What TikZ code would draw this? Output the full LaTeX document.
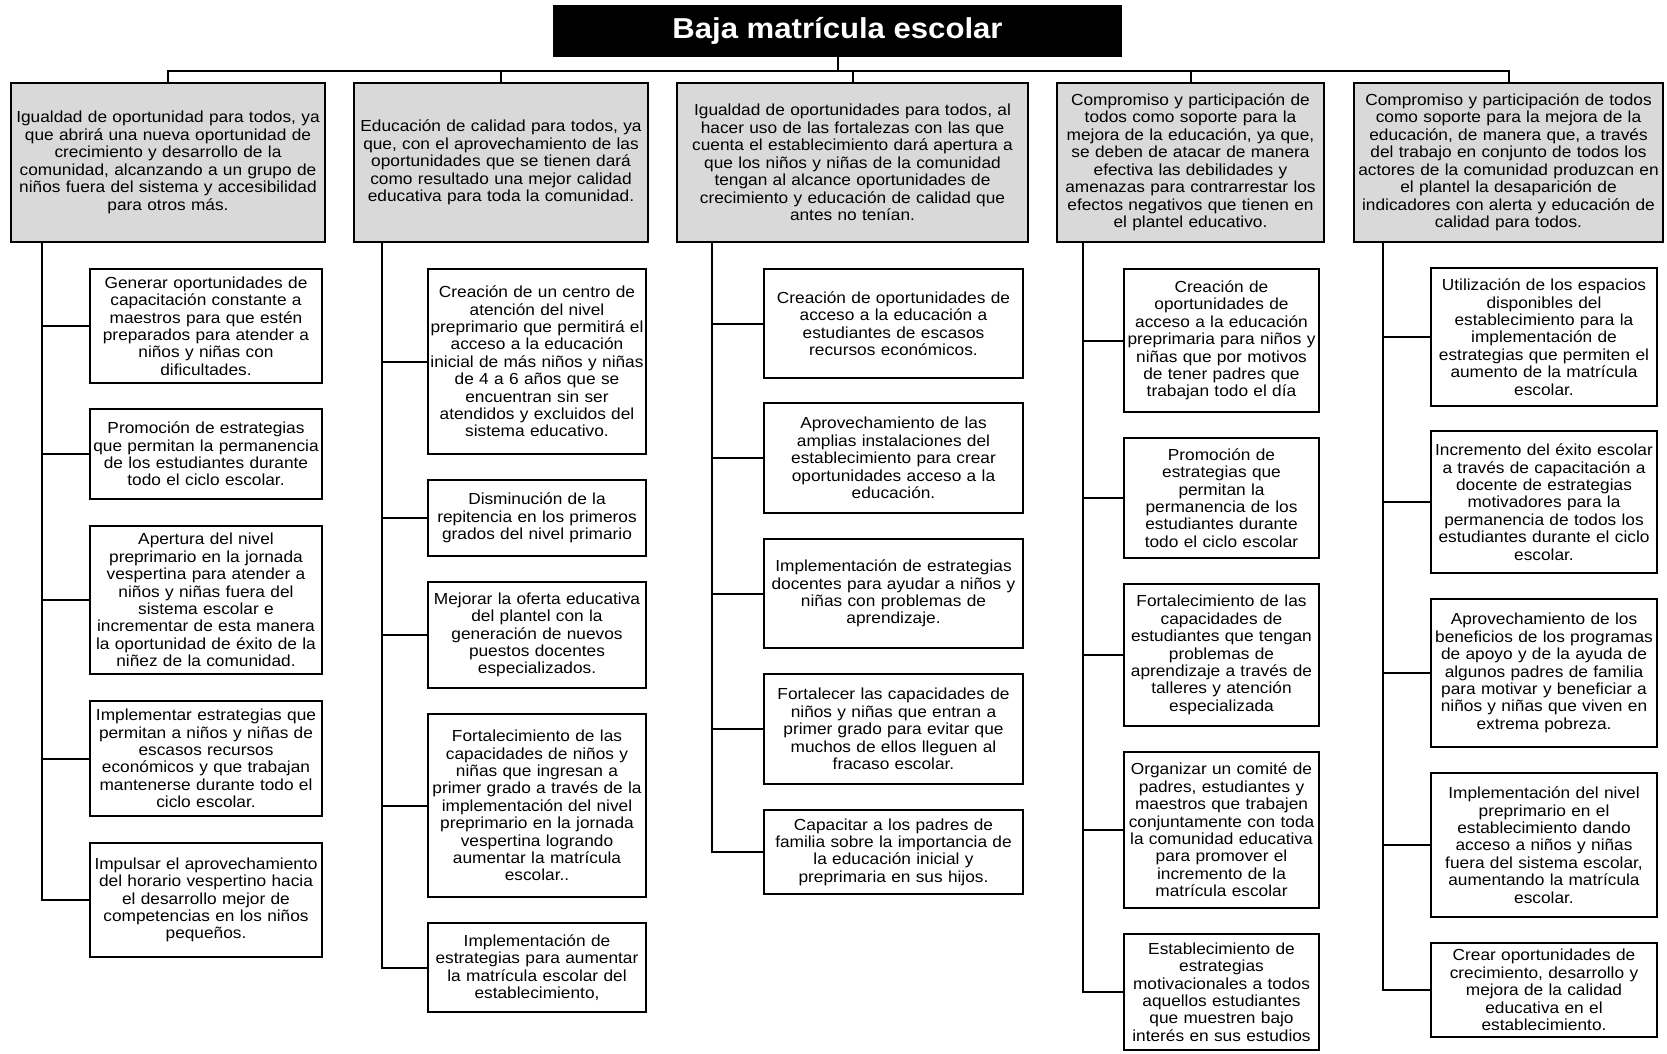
\documentclass[tikz,border=0pt]{standalone}
\usepackage{fontspec}
\setmainfont{Liberation Sans}[FakeStretch=1.08]

\begin{document}
\begin{tikzpicture}[x=0.5pt,y=-0.5pt,
  objbox/.style={draw,line width=1.4pt,fill=black!15,align=center,inner xsep=1.5pt,inner ysep=0pt,
    minimum height=79.5pt,font=\fontsize{8}{8.75}\selectfont},
  actbox/.style={draw,line width=1.4pt,fill=white,align=center,inner xsep=1.5pt,inner ysep=0pt,
    font=\fontsize{8}{8.7}\selectfont},
  link/.style={line width=1pt}]
\useasboundingbox (0,0) rectangle (1667,1054);

% titulo
\node[fill=black,text=white,font=\fontsize{14.4}{16}\selectfont\bfseries,
  minimum width=284.5pt,minimum height=26pt] (title) at (837.5,31) {Baja matrícula escolar};

% objetivos
\node[objbox,text width=154pt] (obj1) at (168,162.5) {Igualdad de oportunidad para todos, ya\\ que abrirá una nueva oportunidad de\\ crecimiento y desarrollo de la\\ comunidad, alcanzando a un grupo de\\ niños fuera del sistema y accesibilidad\\ para otros más.};
\node[objbox,text width=144pt] (obj2) at (501,162.5) {Educación de calidad para todos, ya\\ que, con el aprovechamiento de las\\ oportunidades que se tienen dará\\ como resultado una mejor calidad\\ educativa para toda la comunidad.};
\node[objbox,text width=172.5pt] (obj3) at (852.5,162.5) {Igualdad de oportunidades para todos, al\\ hacer uso de las fortalezas con las que\\ cuenta el establecimiento dará apertura a\\ que los niños y niñas de la comunidad\\ tengan al alcance oportunidades de\\ crecimiento y educación de calidad que\\ antes no tenían.};
\node[objbox,text width=130.5pt] (obj4) at (1190.5,162.5) {Compromiso y participación de\\ todos como soporte para la\\ mejora de la educación, ya que,\\ se deben de atacar de manera\\ efectiva las debilidades y\\ amenazas para contrarrestar los\\ efectos negativos que tienen en\\ el plantel educativo.};
\node[objbox,text width=151.5pt] (obj5) at (1508.5,162.5) {Compromiso y participación de todos\\ como soporte para la mejora de la\\ educación, de manera que, a través\\ del trabajo en conjunto de todos los\\ actores de la comunidad produzcan en\\ el plantel la desaparición de\\ indicadores con alerta y educación de\\ calidad para todos.};

% columna 1
\node[actbox,text width=113pt,minimum height=57pt] (act1a) at (206,326) {Generar oportunidades de\\ capacitación constante a\\ maestros para que estén\\ preparados para atender a\\ niños y niñas con\\ dificultades.};
\node[actbox,text width=113pt,minimum height=45pt] (act1b) at (206,454) {Promoción de estrategias\\ que permitan la permanencia\\ de los estudiantes durante\\ todo el ciclo escolar.};
\node[actbox,text width=113pt,minimum height=74pt] (act1c) at (206,600) {Apertura del nivel\\ preprimario en la jornada\\ vespertina para atender a\\ niños y niñas fuera del\\ sistema escolar e\\ incrementar de esta manera\\ la oportunidad de éxito de la\\ niñez de la comunidad.};
\node[actbox,text width=113pt,minimum height=57.5pt] (act1d) at (206,758.5) {Implementar estrategias que\\ permitan a niños y niñas de\\ escasos recursos\\ económicos y que trabajan\\ mantenerse durante todo el\\ ciclo escolar.};
\node[actbox,text width=113pt,minimum height=57pt] (act1e) at (206,900) {Impulsar el aprovechamiento\\ del horario vespertino hacia\\ el desarrollo mejor de\\ competencias en los niños\\ pequeños.};

% columna 2
\node[actbox,inner xsep=0pt,text width=109pt,minimum height=92.5pt] (act2a) at (537,361.5) {Creación de un centro de\\ atención del nivel\\ preprimario que permitirá el\\ acceso a la educación\\ inicial de más niños y niñas\\ de 4 a 6 años que se\\ encuentran sin ser\\ atendidos y excluidos del\\ sistema educativo.};
\node[actbox,text width=106pt,minimum height=38pt] (act2b) at (537,518) {Disminución de la\\ repitencia en los primeros\\ grados del nivel primario};
\node[actbox,text width=106pt,minimum height=53pt] (act2c) at (537,635) {Mejorar la oferta educativa\\ del plantel con la\\ generación de nuevos\\ puestos docentes\\ especializados.};
\node[actbox,text width=106pt,minimum height=91.5pt] (act2d) at (537,805.5) {Fortalecimiento de las\\ capacidades de niños y\\ niñas que ingresan a\\ primer grado a través de la\\ implementación del nivel\\ preprimario en la jornada\\ vespertina logrando\\ aumentar la matrícula\\ escolar..};
\node[actbox,text width=106pt,minimum height=44.5pt] (act2e) at (537,967.5) {Implementación de\\ estrategias para aumentar\\ la matrícula escolar del\\ establecimiento,};

% columna 3
\node[actbox,text width=126.5pt,minimum height=54.5pt] (act3a) at (893.5,323.5) {Creación de oportunidades de\\ acceso a la educación a\\ estudiantes de escasos\\ recursos económicos.};
\node[actbox,text width=126.5pt,minimum height=55pt] (act3b) at (893.5,458) {Aprovechamiento de las\\ amplias instalaciones del\\ establecimiento para crear\\ oportunidades acceso a la\\ educación.};
\node[actbox,text width=126.5pt,minimum height=54.5pt] (act3c) at (893.5,593.5) {Implementación de estrategias\\ docentes para ayudar a niños y\\ niñas con problemas de\\ aprendizaje.};
\node[actbox,text width=126.5pt,minimum height=55pt] (act3d) at (893.5,729) {Fortalecer las capacidades de\\ niños y niñas que entran a\\ primer grado para evitar que\\ muchos de ellos lleguen al\\ fracaso escolar.};
\node[actbox,text width=126.5pt,minimum height=42pt] (act3e) at (893.5,852) {Capacitar a los padres de\\ familia sobre la importancia de\\ la educación inicial y\\ preprimaria en sus hijos.};

% columna 4
\node[actbox,text width=94.5pt,minimum height=71.5pt] (act4a) at (1221.5,340.5) {Creación de\\ oportunidades de\\ acceso a la educación\\ preprimaria para niños y\\ niñas que por motivos\\ de tener padres que\\ trabajan todo el día};
\node[actbox,text width=94.5pt,minimum height=60pt] (act4b) at (1221.5,498) {Promoción de\\ estrategias que\\ permitan la\\ permanencia de los\\ estudiantes durante\\ todo el ciclo escolar};
\node[actbox,text width=94.5pt,minimum height=71pt] (act4c) at (1221.5,655) {Fortalecimiento de las\\ capacidades de\\ estudiantes que tengan\\ problemas de\\ aprendizaje a través de\\ talleres y atención\\ especializada};
\node[actbox,text width=94.5pt,minimum height=78pt] (act4d) at (1221.5,830) {Organizar un comité de\\ padres, estudiantes y\\ maestros que trabajen\\ conjuntamente con toda\\ la comunidad educativa\\ para promover el\\ incremento de la\\ matrícula escolar};
\node[actbox,text width=94.5pt,minimum height=58pt] (act4e) at (1221.5,992) {Establecimiento de\\ estrategias\\ motivacionales a todos\\ aquellos estudiantes\\ que muestren bajo\\ interés en sus estudios};

% columna 5
\node[actbox,text width=110pt,minimum height=69pt] (act5a) at (1544,337) {Utilización de los espacios\\ disponibles del\\ establecimiento para la\\ implementación de\\ estrategias que permiten el\\ aumento de la matrícula\\ escolar.};
\node[actbox,text width=110pt,minimum height=71pt] (act5b) at (1544,502) {Incremento del éxito escolar\\ a través de capacitación a\\ docente de estrategias\\ motivadores para la\\ permanencia de todos los\\ estudiantes durante el ciclo\\ escolar.};
\node[actbox,text width=110pt,minimum height=74pt] (act5c) at (1544,673) {Aprovechamiento de los\\ beneficios de los programas\\ de apoyo y de la ayuda de\\ algunos padres de familia\\ para motivar y beneficiar a\\ niños y niñas que viven en\\ extrema pobreza.};
\node[actbox,text width=110pt,minimum height=72pt] (act5d) at (1544,845) {Implementación del nivel\\ preprimario en el\\ establecimiento dando\\ acceso a niños y niñas\\ fuera del sistema escolar,\\ aumentando la matrícula\\ escolar.};
\node[actbox,text width=110pt,minimum height=47pt] (act5e) at (1544,990) {Crear oportunidades de\\ crecimiento, desarrollo y\\ mejora de la calidad\\ educativa en el\\ establecimiento.};

% conexiones
\coordinate (bar) at (837.5,71);
\draw[link] (title.south) -- (bar);
\foreach \k in {1,...,5} \draw[link] (bar) -| (obj\k.north);

\coordinate (t1) at ([xshift=16pt]obj1.south west);
\coordinate (t2) at ([xshift=14.5pt]obj2.south west);
\coordinate (t3) at ([xshift=18pt]obj3.south west);
\coordinate (t4) at ([xshift=13.5pt]obj4.south west);
\coordinate (t5) at ([xshift=15pt]obj5.south west);
\foreach \k in {1,...,5}
  \foreach \c in {a,...,e}
    \draw[link] (t\k) |- (act\k\c.west);
\end{tikzpicture}
\end{document}
